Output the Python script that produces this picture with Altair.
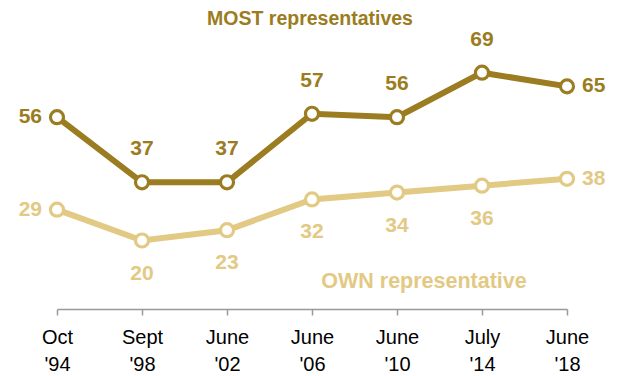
import altair as alt
import pandas as pd

months = ["Oct", "Sept", "June", "June", "June", "July", "June"]
years = ["'94", "'98", "'02", "'06", "'10", "'14", "'18"]
most_vals = [56, 37, 37, 57, 56, 69, 65]
own_vals = [29, 20, 23, 32, 34, 36, 38]

DARK = "#9B7C20"
LIGHT = "#E2C984"
FONT = "Liberation Sans"

cats = [f"{m}|{y}" for m, y in zip(months, years)]
rows = []
for i, c in enumerate(cats):
    rows.append({"date": c, "i": i, "series": "MOST", "value": most_vals[i]})
    rows.append({"date": c, "i": i, "series": "OWN", "value": own_vals[i]})
df = pd.DataFrame(rows)
n = len(cats)

x = alt.X("date:N", sort=cats, scale=alt.Scale(type="point", padding=0),
          axis=alt.Axis(title=None, labelExpr="split(datum.label, '|')", labelAngle=0,
                        labelFont=FONT, labelFontSize=20, labelColor="#000",
                        labelPadding=12, labelLineHeight=27,
                        domainColor="#999", domainWidth=1.5, tickColor="#999",
                        tickWidth=1.5, tickSize=6, grid=False))
y = alt.Y("value:Q", scale=alt.Scale(domain=[0, 80], nice=False), axis=None)
color = alt.Color("series:N", scale=alt.Scale(domain=["MOST", "OWN"], range=[DARK, LIGHT]), legend=None)

base = alt.Chart(df).encode(x=x, y=y, color=color)
lines = base.mark_line(strokeWidth=6)
pts = base.mark_point(shape="circle", filled=False, fill="white", fillOpacity=1, size=170, strokeWidth=3.2, opacity=1)

def txt(cond, **kw):
    return base.mark_text(font=FONT, fontSize=21, fontWeight="bold", **kw).encode(
        text="value:Q").transform_filter(cond)

first = alt.datum.i == 0
last = alt.datum.i == n - 1
mid = (alt.datum.i > 0) & (alt.datum.i < n - 1)
t1 = txt(first, align="right", dx=-15, baseline="middle")
t2 = txt(last, align="left", dx=15, baseline="middle")
t3 = txt(mid & (alt.datum.series == "MOST"), align="center", dy=-33, baseline="middle")
t4 = txt(mid & (alt.datum.series == "OWN"), align="center", dy=33, baseline="middle")

title1 = alt.Chart(pd.DataFrame({"t": ["MOST representatives"]})).mark_text(
    font=FONT, fontSize=19.5, fontWeight="bold", color=DARK, baseline="middle").encode(
    text="t:N", x=alt.value(253), y=alt.value(-16))
title2 = alt.Chart(pd.DataFrame({"t": ["OWN representative"]})).mark_text(
    font=FONT, fontSize=21.5, fontWeight="bold", color=LIGHT, baseline="middle").encode(
    text="t:N", x=alt.value(367), y=alt.value(247))

chart = alt.layer(lines, pts, t1, t2, t3, t4, title1, title2).properties(
    width=510, height=274, autosize=alt.AutoSizeParams(type="none"),
    padding={"left": 49, "top": 27, "right": 44, "bottom": 67}
).configure_view(stroke=None)

chart.save("out.html", embed_options={"renderer": "svg", "actions": False})
